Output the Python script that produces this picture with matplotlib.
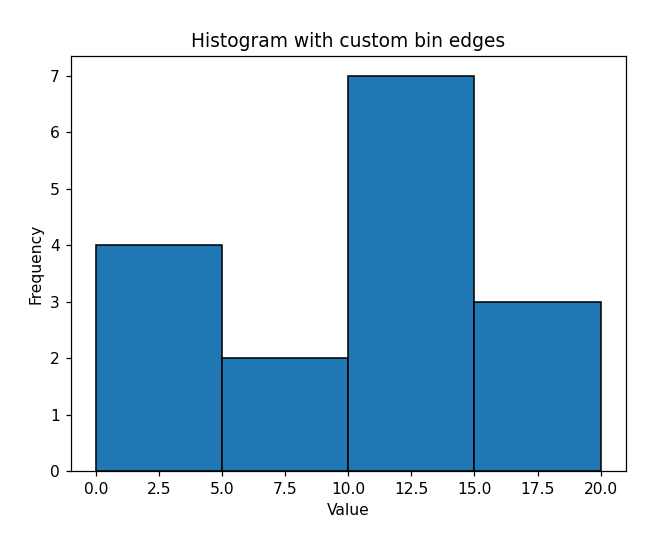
import matplotlib
matplotlib.use("Agg")
import matplotlib.pyplot as plt

# Bin edges and counts per bin
bin_edges = [0, 5, 10, 15, 20]
counts = [4, 2, 7, 3]

DPI = 112


def plot_hist():
    fig = plt.figure(figsize=(654 / DPI, 543 / DPI), dpi=DPI)
    ax = fig.add_axes([0.108, 0.1326, 0.849, 0.764])
    ax.hist(bin_edges[:-1], bins=bin_edges, weights=counts,
            color='#1f77b4', edgecolor='black')
    ax.set_title('Histogram with custom bin edges')
    ax.set_xlabel('Value')
    ax.set_ylabel('Frequency')
    fig.savefig('out.png', dpi=DPI)


if __name__ == '__main__':
    plot_hist()
